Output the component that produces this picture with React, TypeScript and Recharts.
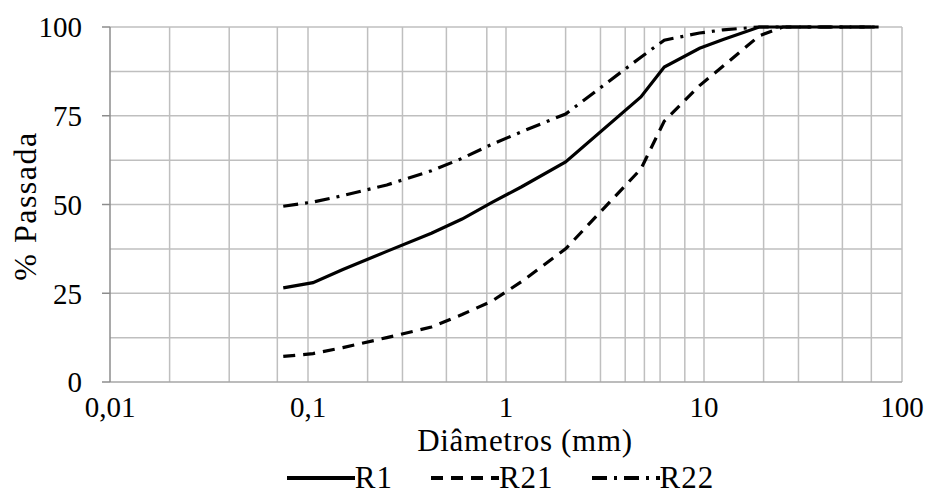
import { LineChart, Line, XAxis, YAxis, CartesianGrid, Legend } from 'recharts';

// sieve openings (mm)
const sieves = [0.075, 0.106, 0.15, 0.25, 0.42, 0.6, 0.85, 1.2, 2.0, 4.8, 6.3, 9.5, 12.5, 19, 25, 38, 50, 76.2];
const r1 = [26.5, 28, 31.7, 36.8, 41.9, 45.9, 50.6, 55, 62, 80.3, 88.7, 94, 96.5, 100, 100, 100, 100, 100];
const r21 = [7.2, 8, 9.7, 12.5, 15.5, 19, 22.8, 28.3, 37.5, 60, 73.5, 83.5, 89, 97.5, 100, 100, 100, 100];
const r22 = [49.5, 50.7, 52.5, 55.5, 59.5, 63, 67, 70.5, 75.5, 91.5, 96.3, 98.3, 99.2, 100, 100, 100, 100, 100];

const xTicks = [0.01, 0.1, 1, 10, 100];
const yTicks = [0, 25, 50, 75, 100];
const xGrid = [
  0.02, 0.03, 0.04, 0.05, 0.06, 0.07, 0.08, 0.09, 0.1,
  0.2, 0.3, 0.4, 0.5, 0.6, 0.7, 0.8, 0.9, 1,
  2, 3, 4, 5, 6, 7, 8, 9, 10,
  20, 30, 40, 50, 60, 70, 80, 90, 100,
];
const yGrid = [12.5, 25, 37.5, 50, 62.5, 75, 87.5, 100];

const series = [
  { key: 'r1', name: 'R1', dash: undefined as string | undefined },
  { key: 'r21', name: 'R21', dash: '12 8' },
  { key: 'r22', name: 'R22', dash: '15 7 3 7' },
];

const data = sieves.map((d, i) => ({ d, r1: r1[i], r21: r21[i], r22: r22[i] }));

const font = 'Liberation Serif, DejaVu Serif, serif';

function ChartLegend() {
  return (
    <div style={{ display: 'flex', justifyContent: 'center', alignItems: 'center', gap: 38, paddingLeft: 72, fontFamily: font, fontSize: 31, color: '#000' }}>
      {series.map((s) => (
        <div key={s.key} style={{ display: 'flex', alignItems: 'center' }}>
          <svg width={68} height={10}>
            <line x1={0} y1={5} x2={68} y2={5} stroke="#000" strokeWidth={4} strokeDasharray={s.dash} />
          </svg>
          <span style={{ lineHeight: '34px', letterSpacing: 1 }}>{s.name}</span>
        </div>
      ))}
    </div>
  );
}

export default function App() {
  return (
    <div style={{ position: 'absolute', left: 0, top: 0, background: '#fff', fontFamily: font }}>
      <LineChart width={929} height={496} data={data} margin={{ top: 27, right: 27, left: 0, bottom: 30 }}>
        <CartesianGrid stroke="#bfbfbf" strokeWidth={1.5} verticalValues={xGrid} horizontalValues={yGrid} />
        <XAxis
          dataKey="d"
          type="number"
          scale="log"
          domain={[0.01, 100]}
          ticks={xTicks}
          allowDataOverflow
          height={84}
          tickSize={0}
          tickMargin={14}
          axisLine={{ stroke: '#a6a6a6', strokeWidth: 1.5 }}
          tick={{ fontSize: 29, fill: '#000', fontFamily: font }}
          tickFormatter={(v) => String(v).replace('.', ',')}
          label={{
            content: () => (
              <text x={525} y={451} textAnchor="middle" fontSize={31} letterSpacing={0.7} fontFamily={font} fill="#000">
                Diâmetros (mm)
              </text>
            ),
          }}
        />
        <YAxis
          type="number"
          domain={[0, 100]}
          ticks={yTicks}
          width={110}
          tickSize={8}
          tickMargin={20}
          axisLine={{ stroke: '#8c8c8c', strokeWidth: 1.5 }}
          tickLine={{ stroke: '#8c8c8c', strokeWidth: 1.5 }}
          tick={{ fontSize: 29, fill: '#000', fontFamily: font }}
          label={{
            content: () => (
              <text x={36} y={206} transform="rotate(-90 36 206)" textAnchor="middle" fontSize={32} letterSpacing={1.5} fontFamily={font} fill="#000">
                % Passada
              </text>
            ),
          }}
        />
        <Legend
          layout="horizontal"
          verticalAlign="middle"
          align="center"
          wrapperStyle={{ top: 461, left: 0, width: 929 }}
          content={() => <ChartLegend />}
        />
        {series.map((s) => (
          <Line
            key={s.key}
            dataKey={s.key}
            name={s.name}
            type="linear"
            stroke="#000"
            strokeWidth={3.2}
            strokeDasharray={s.dash}
            dot={false}
            isAnimationActive={false}
          />
        ))}
      </LineChart>
    </div>
  );
}
